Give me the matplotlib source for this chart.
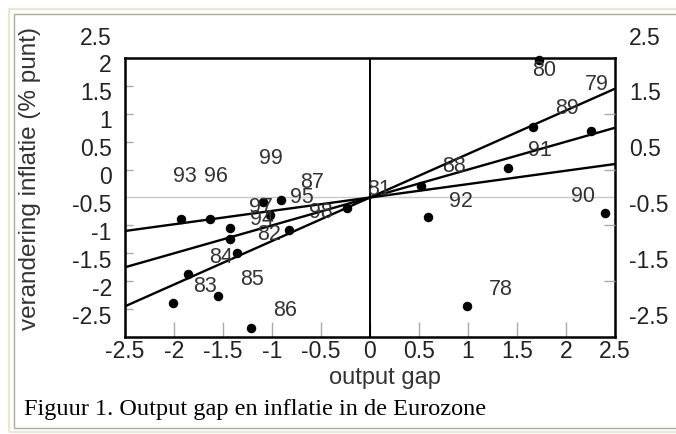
import matplotlib
matplotlib.use("Agg")
import matplotlib.pyplot as plt
from matplotlib.patches import Rectangle
import numpy as np

# ---- data ----
gap = [-1.93, -1.63, -1.43, -1.43, -1.36, -1.86, -2.01, -1.55, -1.21, -1.09, -0.91,
       -1.02, -0.83, -0.23, 1.72, 1.66, 2.25, 1.41, 0.52, 0.59, 2.40, 0.99]
infl = [-0.89, -0.89, -1.05, -1.25, -1.49, -1.875, -2.39, -2.26, -2.84, -0.58, -0.54,
        -0.82, -1.08, -0.68, 1.96, 0.77, 0.70, 0.03, -0.29, -0.85, -0.77, -2.45]

years = ["93", "96", "99", "87", "95", "97", "94", "82", "98", "81", "84",
         "85", "83", "86", "88", "92", "91", "89", "79", "80", "90", "78"]
year_x = [-1.885, -1.568, -1.014, -0.594, -0.697, -1.117, -1.107, -1.035, -0.502, 0.092, -1.516,
          -1.209, -1.680, -0.871, 0.861, 0.932, 1.732, 2.008, 2.316, 1.773, 2.172, 1.332]
year_y = [-0.125, -0.125, 0.196, -0.232, -0.50, -0.679, -0.893, -1.161, -0.768, -0.357, -1.571,
          -1.964, -2.089, -2.518, 0.054, -0.571, 0.339, 1.089, 1.518, 1.768, -0.482, -2.143]

line_intercept = -0.5
line_slopes = [0.24, 0.50, 0.78]

x_ticks = [-2.5, -2, -1.5, -1, -0.5, 0, 0.5, 1, 1.5, 2, 2.5]
x_ticklabels = ["-2.5", "-2", "-1.5", "-1", "-0.5", "0", "0.5", "1", "1.5", "2", "2.5"]
left_vals = [2.5, 2, 1.5, 1, 0.5, 0, -0.5, -1, -1.5, -2, -2.5]
left_labels = ["2.5", "2", "1.5", "1", "0.5", "0", "-0.5", "-1", "-1.5", "-2", "-2.5"]
right_vals = [2.5, 1.5, 0.5, -0.5, -1.5, -2.5]
right_labels = ["2.5", "1.5", "0.5", "-0.5", "-1.5", "-2.5"]
left_tickmarks = [1.5, 1, 0.5, 0, -1, -1.5, -2, -2.5]
right_tickmarks = [1, 0, -1, -2]

W, H = 676, 434
fig = plt.figure(figsize=(W / 100, H / 100), dpi=100)
fig.patch.set_facecolor("white")

# outer frame
fig.add_artist(Rectangle((9 / W, 2 / H), 700 / W, (H - 11) / H, transform=fig.transFigure,
                         fill=False, edgecolor="#ebe6d6", lw=1.5))
fig.add_artist(Rectangle((14 / W, 6 / H), 700 / W, (H - 20) / H, transform=fig.transFigure,
                         fill=False, edgecolor="#b0aa9a", lw=1.0))

ax_l, ax_r, ax_t, ax_b = 125, 615, 58, 337
ax = fig.add_axes([ax_l / W, 1 - ax_b / H, (ax_r - ax_l) / W, (ax_b - ax_t) / H])
ax.set_xlim(-2.5, 2.5)
ax.set_ylim(-3, 2)
for s in ax.spines.values():
    s.set_linewidth(1.8)
    s.set_color("black")

tc = "#222222"
fs = 16.5
fs_lab = 15.5

# reference lines
ax.axhline(-0.5, color="#c8c8c8", lw=1.0, zorder=1)
ax.axvline(0, color="black", lw=1.4, zorder=2)

# regression lines
xs = np.array([-2.5, 2.5])
for b in line_slopes:
    ax.plot(xs, line_intercept + b * xs, color="black", lw=1.7, zorder=3)

ax.scatter(gap, infl, s=34, color="black", zorder=4, clip_on=False)

for t, x, y in zip(years, year_x, year_y):
    ax.text(x, y, t, ha="center", va="center", fontsize=fs_lab, color="#333333",
            family="Liberation Sans", zorder=5)

# x ticks
ax.set_xticks(x_ticks)
ax.set_xticklabels(x_ticklabels, fontsize=fs, color=tc, family="Liberation Sans")
ax.tick_params(axis="x", direction="in", length=11, width=1, color="#aaaaaa", pad=2)

# y ticks (marks only)
ax.set_yticks(left_tickmarks)
ax.tick_params(axis="y", direction="in", length=6, width=1, color="#aaaaaa", labelleft=False)

ax2 = ax.twinx()
ax2.set_ylim(-3, 2)
ax2.set_yticks(right_tickmarks)
ax2.tick_params(axis="y", direction="in", length=8, width=1, color="#aaaaaa", labelright=False)
for s in ax2.spines.values():
    s.set_visible(False)

off = 8 / 56  # label offset below tick positions
for v, lab in zip(left_vals, left_labels):
    ax.text(-0.027, v - off, lab, transform=ax.get_yaxis_transform(), ha="right", va="center",
            fontsize=fs, color=tc, family="Liberation Sans", clip_on=False)
for v, lab in zip(right_vals, right_labels):
    ax.text(1.029, v - off, lab, transform=ax.get_yaxis_transform(), ha="left", va="center",
            fontsize=fs, color=tc, family="Liberation Sans", clip_on=False)

fig.text(30 / W, 1 - 179 / H, "verandering inflatie (% punt)", rotation=90, ha="center",
         va="center", fontsize=17.5, color="#333333", family="Liberation Sans")
fig.text(385 / W, 1 - 378 / H, "output gap", ha="center", va="center", fontsize=17,
         color="#333333", family="Liberation Sans")
fig.text(24 / W, 1 - 410 / H, "Figuur 1. Output gap en inflatie in de Eurozone", ha="left",
         va="center", fontsize=17.5, color="black", family="Liberation Serif")

fig.savefig("out.png", dpi=100)
